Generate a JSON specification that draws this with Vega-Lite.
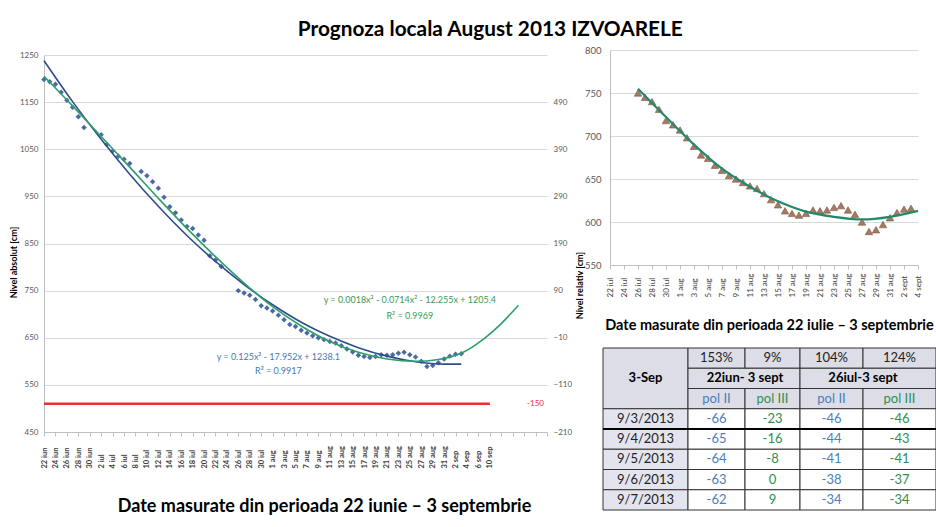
{
"$schema": "https://vega.github.io/schema/vega-lite/v6.json",
"background": "white",
"padding": {"left": 9, "top": 19, "right": 0, "bottom": 0},
"config": {"font": "Lato", "view": {"stroke": null}},
"title": {"text": "Prognoza locala August 2013 IZVOARELE", "fontSize": 20.8, "fontWeight": "bold", "color": "#000000", "anchor": "middle", "dx": 17, "offset": 4},
"datasets": {
"abs": [
{"d":"2013-06-22","v":1198},{"d":"2013-06-23","v":1193},{"d":"2013-06-24","v":1188},{"d":"2013-06-25","v":1171},{"d":"2013-06-26","v":1154},{"d":"2013-06-27","v":1139},{"d":"2013-06-28","v":1119},{"d":"2013-06-29","v":1096},
{"d":"2013-07-02","v":1081},{"d":"2013-07-03","v":1060},{"d":"2013-07-04","v":1046},{"d":"2013-07-05","v":1035},{"d":"2013-07-06","v":1029},{"d":"2013-07-07","v":1020},
{"d":"2013-07-09","v":1003},{"d":"2013-07-10","v":994},{"d":"2013-07-11","v":981},{"d":"2013-07-12","v":967},{"d":"2013-07-13","v":948},{"d":"2013-07-14","v":928},{"d":"2013-07-15","v":915},{"d":"2013-07-16","v":900},{"d":"2013-07-17","v":886},{"d":"2013-07-18","v":882},{"d":"2013-07-19","v":868},{"d":"2013-07-20","v":857},{"d":"2013-07-21","v":824},{"d":"2013-07-22","v":815},{"d":"2013-07-23","v":801},
{"d":"2013-07-26","v":750},{"d":"2013-07-27","v":745},{"d":"2013-07-28","v":740},{"d":"2013-07-29","v":731},{"d":"2013-07-30","v":718},{"d":"2013-07-31","v":713},
{"d":"2013-08-01","v":707},{"d":"2013-08-02","v":698},{"d":"2013-08-03","v":688},{"d":"2013-08-04","v":678},{"d":"2013-08-05","v":674},{"d":"2013-08-06","v":666},{"d":"2013-08-07","v":660},{"d":"2013-08-08","v":654},{"d":"2013-08-09","v":650},{"d":"2013-08-10","v":646},
{"d":"2013-08-11","v":642},{"d":"2013-08-12","v":639},{"d":"2013-08-13","v":633},{"d":"2013-08-14","v":626},{"d":"2013-08-15","v":620},{"d":"2013-08-16","v":613},{"d":"2013-08-17","v":610},{"d":"2013-08-18","v":608},{"d":"2013-08-19","v":610},{"d":"2013-08-20","v":614},
{"d":"2013-08-21","v":613},{"d":"2013-08-22","v":614},{"d":"2013-08-23","v":617},{"d":"2013-08-24","v":619},{"d":"2013-08-25","v":614},{"d":"2013-08-26","v":609},{"d":"2013-08-27","v":600},{"d":"2013-08-28","v":589},{"d":"2013-08-29","v":591},{"d":"2013-08-30","v":597},
{"d":"2013-08-31","v":605},{"d":"2013-09-01","v":611},{"d":"2013-09-02","v":615},{"d":"2013-09-03","v":616}
],
"pol2": [
{"d":"2013-06-22","v":1238},{"d":"2013-06-27","v":1151},{"d":"2013-07-02","v":1071},{"d":"2013-07-07","v":997},{"d":"2013-07-12","v":929},{"d":"2013-07-17","v":867},{"d":"2013-07-22","v":812},{"d":"2013-07-27","v":763},
{"d":"2013-08-01","v":720},{"d":"2013-08-06","v":683},{"d":"2013-08-11","v":653},{"d":"2013-08-16","v":629},{"d":"2013-08-21","v":611},{"d":"2013-08-26","v":599},{"d":"2013-08-31","v":594},{"d":"2013-09-03","v":594}
],
"pol3": [
{"d":"2013-06-22","v":1205},{"d":"2013-06-27","v":1142},{"d":"2013-07-02","v":1077},{"d":"2013-07-07","v":1012},{"d":"2013-07-12","v":946},{"d":"2013-07-17","v":882},{"d":"2013-07-22","v":822},{"d":"2013-07-27","v":766},
{"d":"2013-08-01","v":716},{"d":"2013-08-06","v":675},{"d":"2013-08-11","v":642},{"d":"2013-08-16","v":619},{"d":"2013-08-21","v":605},{"d":"2013-08-26","v":600},{"d":"2013-08-30","v":604},{"d":"2013-09-03","v":617},
{"d":"2013-09-07","v":648},{"d":"2013-09-10","v":680},{"d":"2013-09-13","v":719}
],
"fit26": [
{"d":"2013-07-26","v":755},{"d":"2013-07-30","v":722},{"d":"2013-08-03","v":690},{"d":"2013-08-07","v":662},{"d":"2013-08-11","v":641},{"d":"2013-08-15","v":624},{"d":"2013-08-19","v":612},{"d":"2013-08-23","v":606},{"d":"2013-08-27","v":603},{"d":"2013-08-31","v":606},{"d":"2013-09-04","v":613}
],
"red": [{"d":"2013-06-22","rel":-150},{"d":"2013-09-08","rel":-150}],
"tbl": [
{"t":"3-Sep","c0":0,"c1":1,"r0":0,"r1":3,"cm":0.5,"rm":1.5,"part":"head","kind":"hdr"},
{"t":"153%","c0":1,"c1":2,"r0":0,"r1":1,"cm":1.5,"rm":0.5,"part":"head","kind":"pct"},
{"t":"9%","c0":2,"c1":3,"r0":0,"r1":1,"cm":2.5,"rm":0.5,"part":"head","kind":"pct"},
{"t":"104%","c0":3,"c1":4,"r0":0,"r1":1,"cm":3.5,"rm":0.5,"part":"head","kind":"pct"},
{"t":"124%","c0":4,"c1":5,"r0":0,"r1":1,"cm":4.5,"rm":0.5,"part":"head","kind":"pct"},
{"t":"22iun- 3 sept","c0":1,"c1":3,"r0":1,"r1":2,"cm":2,"rm":1.5,"part":"head","kind":"hdr"},
{"t":"26iul-3 sept","c0":3,"c1":5,"r0":1,"r1":2,"cm":4,"rm":1.5,"part":"head","kind":"hdr"},
{"t":"pol II","c0":1,"c1":2,"r0":2,"r1":3,"cm":1.5,"rm":2.5,"part":"head","kind":"II"},
{"t":"pol III","c0":2,"c1":3,"r0":2,"r1":3,"cm":2.5,"rm":2.5,"part":"head","kind":"III"},
{"t":"pol II","c0":3,"c1":4,"r0":2,"r1":3,"cm":3.5,"rm":2.5,"part":"head","kind":"II"},
{"t":"pol III","c0":4,"c1":5,"r0":2,"r1":3,"cm":4.5,"rm":2.5,"part":"head","kind":"III"},
{"t":"9/3/2013","c0":0,"c1":1,"r0":3,"r1":4,"cm":0.5,"rm":3.5,"part":"side","kind":"date"},
{"t":"-66","c0":1,"c1":2,"r0":3,"r1":4,"cm":1.5,"rm":3.5,"part":"body","kind":"II"},
{"t":"-23","c0":2,"c1":3,"r0":3,"r1":4,"cm":2.5,"rm":3.5,"part":"body","kind":"III"},
{"t":"-46","c0":3,"c1":4,"r0":3,"r1":4,"cm":3.5,"rm":3.5,"part":"body","kind":"II"},
{"t":"-46","c0":4,"c1":5,"r0":3,"r1":4,"cm":4.5,"rm":3.5,"part":"body","kind":"III"},
{"t":"9/4/2013","c0":0,"c1":1,"r0":4,"r1":5,"cm":0.5,"rm":4.5,"part":"side","kind":"date"},
{"t":"-65","c0":1,"c1":2,"r0":4,"r1":5,"cm":1.5,"rm":4.5,"part":"body","kind":"II"},
{"t":"-16","c0":2,"c1":3,"r0":4,"r1":5,"cm":2.5,"rm":4.5,"part":"body","kind":"III"},
{"t":"-44","c0":3,"c1":4,"r0":4,"r1":5,"cm":3.5,"rm":4.5,"part":"body","kind":"II"},
{"t":"-43","c0":4,"c1":5,"r0":4,"r1":5,"cm":4.5,"rm":4.5,"part":"body","kind":"III"},
{"t":"9/5/2013","c0":0,"c1":1,"r0":5,"r1":6,"cm":0.5,"rm":5.5,"part":"side","kind":"date"},
{"t":"-64","c0":1,"c1":2,"r0":5,"r1":6,"cm":1.5,"rm":5.5,"part":"body","kind":"II"},
{"t":"-8","c0":2,"c1":3,"r0":5,"r1":6,"cm":2.5,"rm":5.5,"part":"body","kind":"III"},
{"t":"-41","c0":3,"c1":4,"r0":5,"r1":6,"cm":3.5,"rm":5.5,"part":"body","kind":"II"},
{"t":"-41","c0":4,"c1":5,"r0":5,"r1":6,"cm":4.5,"rm":5.5,"part":"body","kind":"III"},
{"t":"9/6/2013","c0":0,"c1":1,"r0":6,"r1":7,"cm":0.5,"rm":6.5,"part":"side","kind":"date"},
{"t":"-63","c0":1,"c1":2,"r0":6,"r1":7,"cm":1.5,"rm":6.5,"part":"body","kind":"II"},
{"t":"0","c0":2,"c1":3,"r0":6,"r1":7,"cm":2.5,"rm":6.5,"part":"body","kind":"III"},
{"t":"-38","c0":3,"c1":4,"r0":6,"r1":7,"cm":3.5,"rm":6.5,"part":"body","kind":"II"},
{"t":"-37","c0":4,"c1":5,"r0":6,"r1":7,"cm":4.5,"rm":6.5,"part":"body","kind":"III"},
{"t":"9/7/2013","c0":0,"c1":1,"r0":7,"r1":8,"cm":0.5,"rm":7.5,"part":"side","kind":"date"},
{"t":"-62","c0":1,"c1":2,"r0":7,"r1":8,"cm":1.5,"rm":7.5,"part":"body","kind":"II"},
{"t":"9","c0":2,"c1":3,"r0":7,"r1":8,"cm":2.5,"rm":7.5,"part":"body","kind":"III"},
{"t":"-34","c0":3,"c1":4,"r0":7,"r1":8,"cm":3.5,"rm":7.5,"part":"body","kind":"II"},
{"t":"-34","c0":4,"c1":5,"r0":7,"r1":8,"cm":4.5,"rm":7.5,"part":"body","kind":"III"}
]
},
"bounds": "flush",
"spacing": 63,
"hconcat": [
{
"width": 503, "height": 382,
"layer": [
{"layer": [
{"data": {"name": "abs"},
 "mark": {"type": "point", "shape": "diamond", "filled": true, "size": 30, "color": "#4a6aa5", "opacity": 1},
 "encoding": {
  "x": {"field": "d", "type": "temporal",
   "scale": {"type": "utc", "domain": [{"year":2013,"month":6,"date":22,"utc":true},{"year":2013,"month":9,"date":18,"utc":true}], "nice": false},
   "axis": {
    "values": [
     {"year":2013,"month":6,"date":22,"utc":true},{"year":2013,"month":6,"date":24,"utc":true},{"year":2013,"month":6,"date":26,"utc":true},{"year":2013,"month":6,"date":28,"utc":true},{"year":2013,"month":6,"date":30,"utc":true},
     {"year":2013,"month":7,"date":2,"utc":true},{"year":2013,"month":7,"date":4,"utc":true},{"year":2013,"month":7,"date":6,"utc":true},{"year":2013,"month":7,"date":8,"utc":true},{"year":2013,"month":7,"date":10,"utc":true},
     {"year":2013,"month":7,"date":12,"utc":true},{"year":2013,"month":7,"date":14,"utc":true},{"year":2013,"month":7,"date":16,"utc":true},{"year":2013,"month":7,"date":18,"utc":true},{"year":2013,"month":7,"date":20,"utc":true},
     {"year":2013,"month":7,"date":22,"utc":true},{"year":2013,"month":7,"date":24,"utc":true},{"year":2013,"month":7,"date":26,"utc":true},{"year":2013,"month":7,"date":28,"utc":true},{"year":2013,"month":7,"date":30,"utc":true},
     {"year":2013,"month":8,"date":1,"utc":true},{"year":2013,"month":8,"date":3,"utc":true},{"year":2013,"month":8,"date":5,"utc":true},{"year":2013,"month":8,"date":7,"utc":true},{"year":2013,"month":8,"date":9,"utc":true},
     {"year":2013,"month":8,"date":11,"utc":true},{"year":2013,"month":8,"date":13,"utc":true},{"year":2013,"month":8,"date":15,"utc":true},{"year":2013,"month":8,"date":17,"utc":true},{"year":2013,"month":8,"date":19,"utc":true},
     {"year":2013,"month":8,"date":21,"utc":true},{"year":2013,"month":8,"date":23,"utc":true},{"year":2013,"month":8,"date":25,"utc":true},{"year":2013,"month":8,"date":27,"utc":true},{"year":2013,"month":8,"date":29,"utc":true},
     {"year":2013,"month":8,"date":31,"utc":true},{"year":2013,"month":9,"date":2,"utc":true},{"year":2013,"month":9,"date":4,"utc":true},{"year":2013,"month":9,"date":6,"utc":true},{"year":2013,"month":9,"date":8,"utc":true},
     {"year":2013,"month":9,"date":10,"utc":true},{"year":2013,"month":9,"date":12,"utc":true},{"year":2013,"month":9,"date":14,"utc":true},{"year":2013,"month":9,"date":16,"utc":true},{"year":2013,"month":9,"date":18,"utc":true}
    ],
    "tickCount": 100,
    "labelExpr": "utcmonth(datum.value) == 8 && utcdate(datum.value) > 8 ? '' : (utcmonth(datum.value) == 8 && utcdate(datum.value) == 8 ? '10 sep' : utcdate(datum.value) + ' ' + ['iun','iul','aug','sep'][utcmonth(datum.value) - 5])",
    "labelAngle": -90, "labelAlign": "left", "labelBaseline": "middle", "labelPadding": 32,
    "labelFontSize": 7.5, "labelFontWeight": "bold", "labelColor": "#404040",
    "labelOverlap": false, "labelFlush": false, "labelBound": false,
    "tickSize": 4, "tickColor": "#bfbfbf", "domainColor": "#bfbfbf", "grid": false,
    "title": "Date masurate din perioada 22 iunie – 3 septembrie",
    "titleFontSize": 18, "titleFontWeight": "bold", "titleColor": "#000000",
    "titleX": 280, "titleY": 74, "titleAlign": "center", "titleBaseline": "middle"
   }},
  "y": {"field": "v", "type": "quantitative",
   "scale": {"domain": [450, 1250], "range": [382, 5], "zero": false, "nice": false},
   "axis": {"values": [450,550,650,750,850,950,1050,1150,1250], "format": "d", "grid": true, "gridColor": "#d9d9d9",
    "domainColor": "#bfbfbf", "ticks": false, "labelFontSize": 8, "labelColor": "#595959", "labelPadding": 6,
    "title": "Nivel absolut [cm]", "titleFontSize": 9, "titleFontWeight": "bold", "titleColor": "#000000",
    "titlePadding": 1, "titleY": 212}}
 }},
{"data": {"name": "pol2"},
 "mark": {"type": "line", "color": "#2f4d8c", "strokeWidth": 1.6, "interpolate": "monotone"},
 "encoding": {"x": {"field": "d", "type": "temporal"}, "y": {"field": "v", "type": "quantitative"}}},
{"data": {"name": "pol3"},
 "mark": {"type": "line", "color": "#2e9e6a", "strokeWidth": 1.6, "interpolate": "monotone"},
 "encoding": {"x": {"field": "d", "type": "temporal"}, "y": {"field": "v", "type": "quantitative"}}},
{"data": {"values": [{}]},
 "mark": {"type": "text", "color": "#3b9a55", "fontSize": 9, "align": "center", "baseline": "middle"},
 "encoding": {"x": {"datum": {"year":2013,"month":8,"date":25,"utc":true}, "type": "temporal"}, "y": {"datum": 730, "type": "quantitative"}, "text": {"value": "y = 0.0018x³ - 0.0714x² - 12.255x + 1205.4"}}},
{"data": {"values": [{}]},
 "mark": {"type": "text", "color": "#3b9a55", "fontSize": 9, "align": "center", "baseline": "middle"},
 "encoding": {"x": {"datum": {"year":2013,"month":8,"date":25,"utc":true}, "type": "temporal"}, "y": {"datum": 696, "type": "quantitative"}, "text": {"value": "R² = 0.9969"}}},
{"data": {"values": [{}]},
 "mark": {"type": "text", "color": "#4677b8", "fontSize": 9, "align": "center", "baseline": "middle"},
 "encoding": {"x": {"datum": {"year":2013,"month":8,"date":2,"utc":true}, "type": "temporal"}, "y": {"datum": 609, "type": "quantitative"}, "text": {"value": "y = 0.125x² - 17.952x + 1238.1"}}},
{"data": {"values": [{}]},
 "mark": {"type": "text", "color": "#4677b8", "fontSize": 9, "align": "center", "baseline": "middle"},
 "encoding": {"x": {"datum": {"year":2013,"month":8,"date":2,"utc":true}, "type": "temporal"}, "y": {"datum": 579, "type": "quantitative"}, "text": {"value": "R² = 0.9917"}}}
]},
{"layer": [
{"data": {"name": "red"},
 "mark": {"type": "line", "color": "#e8312f", "strokeWidth": 2.5},
 "encoding": {"x": {"field": "d", "type": "temporal"},
  "y": {"field": "rel", "type": "quantitative",
   "scale": {"domain": [-210, 590], "range": [382, 5], "zero": false, "nice": false},
   "axis": {"orient": "right", "values": [-210,-110,-10,90,190,290,390,490], "grid": false, "domain": false, "ticks": false,
    "labelFontSize": 8, "labelColor": "#595959", "labelPadding": 6,
    "title": "Nivel relativ [cm]", "titleFontSize": 9, "titleFontWeight": "bold", "titleColor": "#000000",
    "titlePadding": 4, "titleY": 235, "titleAngle": 270, "titleBaseline": "top"}}}},
{"data": {"values": [{}]},
 "mark": {"type": "text", "color": "#e8312f", "fontSize": 8, "align": "center", "baseline": "middle"},
 "encoding": {"x": {"datum": {"year":2013,"month":9,"date":16,"utc":true}, "type": "temporal"}, "y": {"datum": -150, "type": "quantitative"}, "text": {"value": "-150"}}}
]}
],
"resolve": {"scale": {"y": "independent"}}
},
{
"bounds": "flush",
"spacing": 83,
"vconcat": [
{
"width": 308, "height": 215,
"layer": [
{"data": {"name": "abs"},
 "transform": [{"filter": "time(datum.d) >= utc(2013,6,26)"}],
 "mark": {"type": "point", "shape": "triangle-up", "filled": true, "size": 55, "fill": "#a47a61", "stroke": "#7d5440", "strokeWidth": 0.6, "opacity": 1},
 "encoding": {
  "x": {"field": "d", "type": "temporal",
   "scale": {"type": "utc", "domain": [{"year":2013,"month":7,"date":22,"utc":true},{"year":2013,"month":9,"date":4,"utc":true}], "nice": false},
   "axis": {
    "values": [
     {"year":2013,"month":7,"date":22,"utc":true},{"year":2013,"month":7,"date":24,"utc":true},{"year":2013,"month":7,"date":26,"utc":true},{"year":2013,"month":7,"date":28,"utc":true},{"year":2013,"month":7,"date":30,"utc":true},
     {"year":2013,"month":8,"date":1,"utc":true},{"year":2013,"month":8,"date":3,"utc":true},{"year":2013,"month":8,"date":5,"utc":true},{"year":2013,"month":8,"date":7,"utc":true},{"year":2013,"month":8,"date":9,"utc":true},
     {"year":2013,"month":8,"date":11,"utc":true},{"year":2013,"month":8,"date":13,"utc":true},{"year":2013,"month":8,"date":15,"utc":true},{"year":2013,"month":8,"date":17,"utc":true},{"year":2013,"month":8,"date":19,"utc":true},
     {"year":2013,"month":8,"date":21,"utc":true},{"year":2013,"month":8,"date":23,"utc":true},{"year":2013,"month":8,"date":25,"utc":true},{"year":2013,"month":8,"date":27,"utc":true},{"year":2013,"month":8,"date":29,"utc":true},
     {"year":2013,"month":8,"date":31,"utc":true},{"year":2013,"month":9,"date":2,"utc":true},{"year":2013,"month":9,"date":4,"utc":true}
    ],
    "tickCount": 100,
    "labelExpr": "utcdate(datum.value) + ' ' + ['iul','aug','sept'][utcmonth(datum.value) - 6]",
    "labelAngle": -90, "labelAlign": "left", "labelBaseline": "middle", "labelPadding": 28,
    "labelFontSize": 8, "labelColor": "#404040",
    "labelOverlap": false, "labelFlush": false, "labelBound": false,
    "tickSize": 4, "tickColor": "#bfbfbf", "domainColor": "#bfbfbf", "grid": false,
    "title": "Date masurate din perioada 22 iulie – 3 septembrie",
    "titleFontSize": 14.5, "titleFontWeight": "bold", "titleColor": "#000000",
    "titleX": 159, "titleY": 60, "titleAlign": "center", "titleBaseline": "middle"
   }},
  "y": {"field": "v", "type": "quantitative",
   "scale": {"domain": [550, 800], "zero": false, "nice": false},
   "axis": {"values": [550,600,650,700,750,800], "grid": true, "gridColor": "#d9d9d9", "domainColor": "#bfbfbf", "ticks": false,
    "labelFontSize": 9.5, "labelColor": "#595959", "labelPadding": 9, "title": null}}
 }},
{"data": {"name": "fit26"},
 "mark": {"type": "line", "color": "#23896b", "strokeWidth": 2.2, "interpolate": "monotone"},
 "encoding": {"x": {"field": "d", "type": "temporal"}, "y": {"field": "v", "type": "quantitative"}}}
]
},
{
"width": 326, "height": 162,
"data": {"name": "tbl"},
"layer": [
{"mark": {"type": "rect", "stroke": "#333333", "strokeWidth": 1},
 "encoding": {
  "x": {"field": "c0", "type": "quantitative", "scale": {"domain": [0,1,2,3,4,5], "range": [-7,78,135,190,253,326], "zero": false, "nice": false}, "axis": null},
  "x2": {"field": "c1"},
  "y": {"field": "r0", "type": "quantitative", "scale": {"domain": [0, 8], "range": [0, 162], "zero": false, "nice": false}, "axis": null},
  "y2": {"field": "r1"},
  "fill": {"field": "part", "type": "nominal", "scale": {"domain": ["head","side","body"], "range": ["#dcdde7","#e4e4ee","#ffffff"]}, "legend": null}
 }},
{"data": {"values": [{}]},
 "mark": {"type": "rule", "color": "#000000", "strokeWidth": 2.2},
 "encoding": {"x": {"datum": 0, "type": "quantitative"}, "x2": {"datum": 5}, "y": {"datum": 4, "type": "quantitative"}}},
{"transform": [{"filter": "datum.kind == 'hdr'"}],
 "mark": {"type": "text", "fontSize": 13, "fontWeight": "bold", "color": "#000000", "align": "center", "baseline": "middle"},
 "encoding": {"x": {"field": "cm", "type": "quantitative"}, "y": {"field": "rm", "type": "quantitative"}, "text": {"field": "t"}}},
{"transform": [{"filter": "datum.kind != 'hdr'"}],
 "mark": {"type": "text", "fontSize": 13, "align": "center", "baseline": "middle"},
 "encoding": {"x": {"field": "cm", "type": "quantitative"}, "y": {"field": "rm", "type": "quantitative"}, "text": {"field": "t"},
  "color": {"field": "kind", "type": "nominal", "scale": {"domain": ["pct","date","II","III"], "range": ["#222222","#222222","#4a7ebb","#2f8f4f"]}, "legend": null}}}
]
}
]
}
]
}
